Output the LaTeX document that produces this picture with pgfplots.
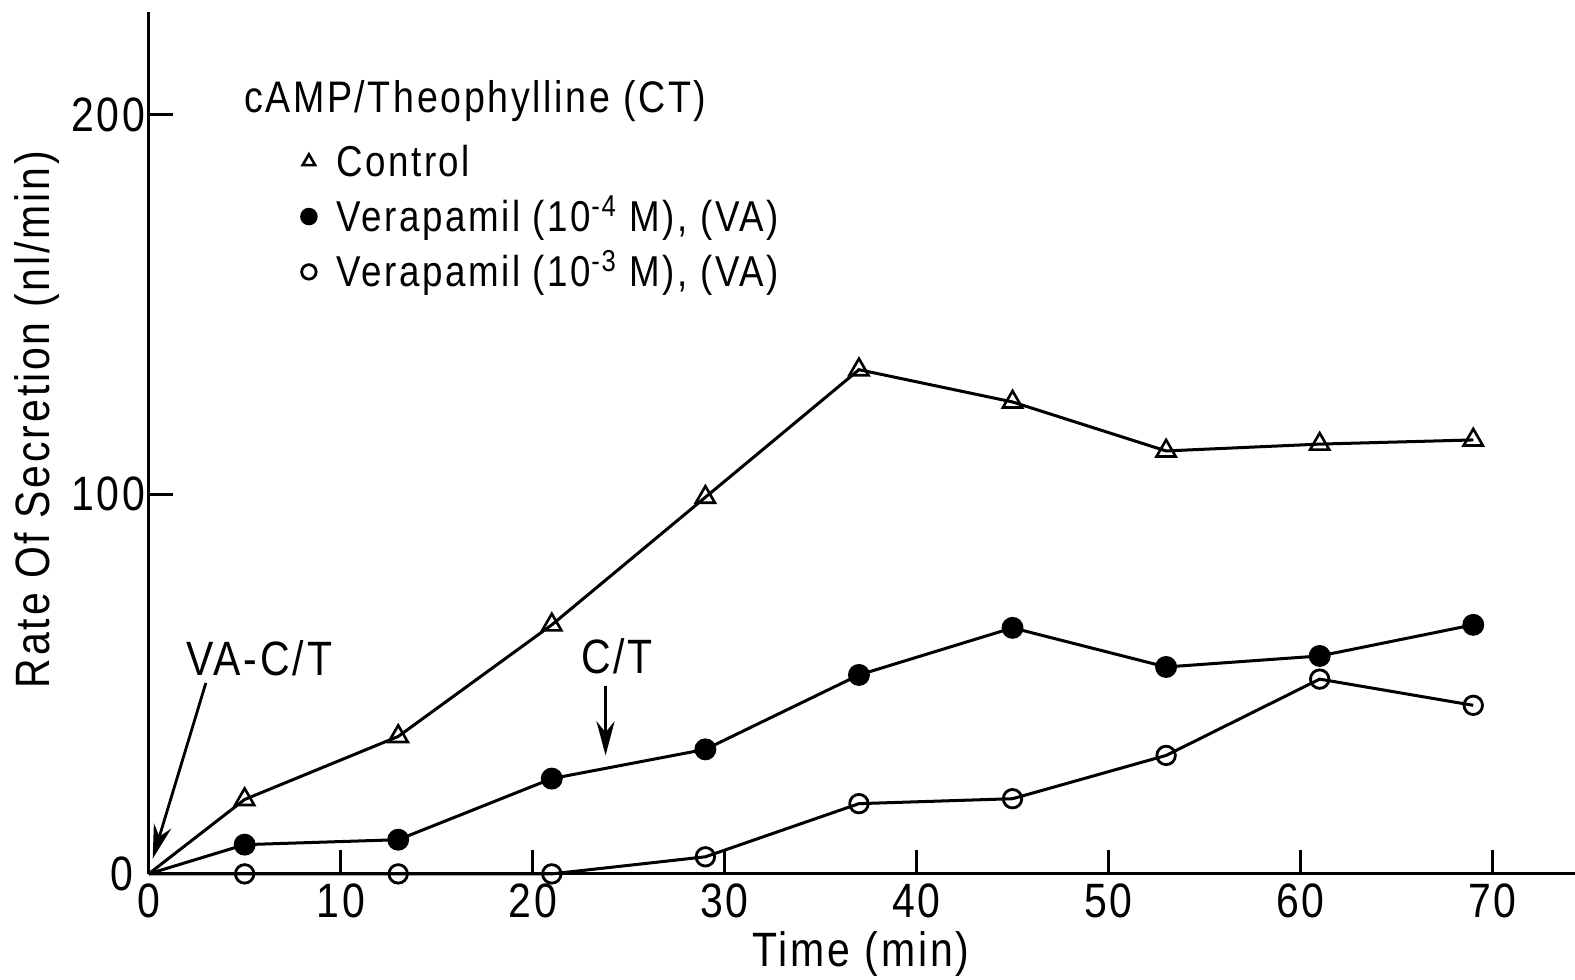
\documentclass[border=0pt]{standalone}
\usepackage{pgfplots}
\pgfplotsset{compat=1.18}
\usepackage{fontspec}
\setmainfont{Liberation Sans}[FakeStretch=0.85, LetterSpace=6]
\usetikzlibrary{arrows.meta}
\begin{document}
\begin{tikzpicture}
\path[use as bounding box] (0,0) rectangle (784pt,487.5pt);
\begin{axis}[
  at={(74pt,52.5pt)}, anchor=south west,
  scale only axis, width=710pt, height=429pt,
  xmin=0, xmax=74.3, ymin=0, ymax=227,
  axis x line*=bottom, axis y line*=left,
  axis line style={line width=1.6pt, black},
  tick align=inside, major tick length=12pt,
  tick style={line width=1.4pt, black},
  xtick={0,10,...,70}, ytick={0,100,200},
  yticklabels={0\hspace*{6pt},100,200},
  minor tick num=0,
  /pgf/number format/assume math mode=true,
  tick label style={font=\fontsize{24}{24}\selectfont},
  xticklabel style={inner sep=2pt, yshift=-3pt},
  yticklabel style={inner xsep=1.5pt},
  xlabel={Time (min)},
  xlabel style={at={(axis description cs:0.4993,-0.0932)}, anchor=center, font=\fontsize{24}{24}\selectfont},
  ylabel={Rate Of Secretion (nl/min)},
  ylabel style={at={(axis description cs:-0.0782,0.527)}, anchor=center, font=\fontsize{24}{24}\selectfont},
  clip=false,
  legend style={at={(axis cs:7.95,192)}, anchor=north west, draw=none, fill=none,
    inner sep=0pt, font=\fontsize{21.5}{26}\selectfont, row sep=9.5pt, column sep=10pt,
    nodes={inner sep=0pt, text depth=0pt}, cells={anchor=base west}},
  legend image code/.code={\draw[#1, only marks] plot coordinates {(0pt,7.5pt)};},
  legend image post style={mark size=3.6pt, mark indices={1}},
]
\addplot[black, line width=1.5pt, mark=triangle, mark size=5.5pt, mark indices={2,...,10},
  mark options={solid, fill=white, line width=1.3pt}]
  coordinates {(0,0)(5,19.6)(13,36.2)(21,65.6)(29,99.2)(37,132.8)(45,124.3)(53,111.4)(61,113.2)(69,114.3)};
\addlegendentry{Control}
\addplot[black, line width=1.5pt, mark=*, mark size=4.7pt, mark indices={2,...,10},
  mark options={solid, fill=black}]
  coordinates {(0,0)(5,7.7)(13,9.0)(21,25.1)(29,32.8)(37,52.4)(45,64.8)(53,54.5)(61,57.4)(69,65.6)};
\addlegendentry{Verapamil (10\textsuperscript{-4} M), (VA)}
\addplot[black, line width=1.5pt, mark=o, mark size=4.6pt, mark indices={2,...,10},
  mark options={solid, fill=white, line width=1.4pt}]
  coordinates {(0,0)(5,0)(13,0)(21,0)(29,4.5)(37,18.5)(45,19.8)(53,31.2)(61,51.3)(69,44.4)};
\addlegendentry{Verapamil (10\textsuperscript{-3} M), (VA)}
\node[anchor=base west, font=\fontsize{22}{22}\selectfont] at (axis cs:4.6,200.5) {cAMP/Theophylline (CT)};
\node[anchor=center, font=\fontsize{24}{24}\selectfont] at (axis cs:5.76,56.9) {VA-C/T};
\node[anchor=center, font=\fontsize{24}{24}\selectfont] at (axis cs:24.4,57.4) {C/T};
\draw[line width=1.4pt, -{Stealth[length=17pt, width=9pt]}] (axis cs:2.98,50.3) -- (axis cs:0.21,4.0);
\draw[line width=1.4pt, -{Stealth[length=17pt, width=9pt]}] (axis cs:23.8,49.5) -- (axis cs:23.8,31.2);
\end{axis}
\end{tikzpicture}
\end{document}
